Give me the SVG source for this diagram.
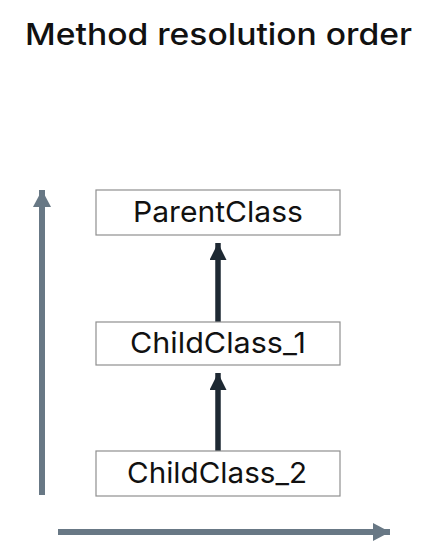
<svg xmlns="http://www.w3.org/2000/svg" width="446" height="551" viewBox="0 0 446 551">
<style>
.box{fill:#fff;stroke:#8f8f8f;stroke-width:1.2}
.lbl{font-family:Inter,"Noto Sans","DejaVu Sans",sans-serif;font-size:29px;fill:#111;text-anchor:middle}
.title{font-family:Inter,"Noto Sans","DejaVu Sans",sans-serif;font-size:30px;font-weight:500;fill:#111}
.inh{stroke:#1e2933;stroke-width:5.5;fill:none}
.axis{stroke:#687885;stroke-width:6;fill:none}
</style>
<defs>
<marker id="ah" markerUnits="userSpaceOnUse" markerWidth="18" markerHeight="17" refX="17" refY="8.5" orient="auto">
<path d="M0,0 L17,8.5 L0,17 Z" fill="#1e2933"/>
</marker>
<marker id="ax" markerUnits="userSpaceOnUse" markerWidth="18" markerHeight="18" refX="17" refY="9" orient="auto">
<path d="M0,0 L17,9 L0,18 Z" fill="#687885"/>
</marker>
</defs>
<rect width="446" height="551" fill="#fff"/>
<text class="title" x="25" y="45" textLength="387" lengthAdjust="spacingAndGlyphs">Method resolution order</text>
<g id="connectors">
<line class="inh" x1="218" y1="322" x2="218" y2="243" marker-end="url(#ah)"/>
<line class="inh" x1="218" y1="451" x2="218" y2="373" marker-end="url(#ah)"/>
<line class="axis" x1="42" y1="495" x2="42" y2="190" marker-end="url(#ax)"/>
<line class="axis" x1="58" y1="532" x2="390" y2="532" marker-end="url(#ax)"/>
</g>
<g id="ParentClass">
<rect class="box" x="96" y="190" width="244" height="45"/>
<text class="lbl" x="218" y="222" textLength="170" lengthAdjust="spacingAndGlyphs">ParentClass</text>
</g>
<g id="ChildClass_1">
<rect class="box" x="96" y="322" width="244" height="43"/>
<text class="lbl" x="218" y="353" textLength="176" lengthAdjust="spacingAndGlyphs">ChildClass_1</text>
</g>
<g id="ChildClass_2">
<rect class="box" x="96" y="451" width="244" height="45"/>
<text class="lbl" x="217" y="483" textLength="180" lengthAdjust="spacingAndGlyphs">ChildClass_2</text>
</g>
</svg>
